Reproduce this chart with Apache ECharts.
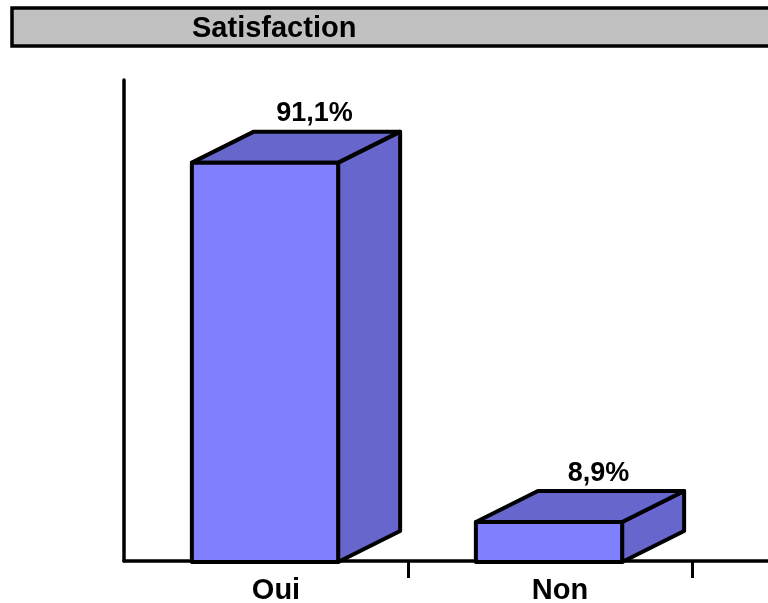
<!DOCTYPE html>
<html><head><meta charset="utf-8">
<script src="https://cdn.jsdelivr.net/npm/echarts@6/dist/echarts.min.js"></script>
<style>html,body{margin:0;padding:0;background:#fff}#c{width:768px;height:603px}</style>
</head><body><div id="c"></div>
<script>
const titleText = 'Satisfaction';
const categories = ['Oui', 'Non', ''];
const values = [91.1, 8.9];
const valueLabels = values.map(v => v.toFixed(1).replace('.', ',') + '%');

const FONT = '"Liberation Sans", Arial, sans-serif';
const DX = 62, DY = -31;
const chart = echarts.init(document.getElementById('c'), null, {renderer: 'canvas'});

function renderItem(params, api) {
  const i = api.value(0), v = api.value(1);
  const top = api.coord([i, v]);
  const base = api.coord([i, 0]);
  const w = api.size([1, 0])[0] * 0.515;
  const x0 = top[0] - w / 2 - 1, x1 = x0 + w;
  const yT = top[1], yB = base[1] + 1;
  const ln = {stroke: '#000', lineWidth: 4, lineJoin: 'round'};
  return {type: 'group', children: [
    {type: 'polygon', shape: {points: [[x1, yB], [x1 + DX, yB + DY], [x1 + DX, yT + DY], [x1, yT]]},
     style: Object.assign({fill: '#6666cc'}, ln)},
    {type: 'polygon', shape: {points: [[x0, yT], [x0 + DX, yT + DY], [x1 + DX, yT + DY], [x1, yT]]},
     style: Object.assign({fill: '#6666cc'}, ln)},
    {type: 'rect', shape: {x: x0, y: yT, width: w, height: yB - yT},
     style: Object.assign({fill: '#8080ff'}, ln)},
    {type: 'text', style: {text: valueLabels[params.dataIndex], x: (x0 + x1) / 2 + DX * 0.8, y: yT + DY - 18,
      align: 'center', verticalAlign: 'middle', font: 'bold 27px ' + FONT, fill: '#000'}}
  ]};
}

chart.setOption({
  animation: false,
  backgroundColor: '#fff',
  title: {
    text: titleText, left: 192, top: 14, padding: 0,
    textStyle: {fontFamily: FONT, fontWeight: 'bold', fontSize: 29, lineHeight: 30, color: '#000'}
  },
  graphic: [{
    type: 'rect', z: -1, shape: {x: 12, y: 8, width: 800, height: 38},
    style: {fill: '#c0c0c0', stroke: '#000', lineWidth: 3.5}
  }],
  grid: {left: 124, top: 80, width: 852, bottom: 42, outerBoundsMode: 'none', containLabel: false},
  xAxis: {
    type: 'category', data: categories, boundaryGap: true,
    axisLine: {lineStyle: {color: '#000', width: 3.5}},
    axisTick: {show: true, interval: (idx) => idx > 0, alignWithLabel: false, length: 17, lineStyle: {color: '#000', width: 3}},
    axisLabel: {interval: 0, fontFamily: FONT, fontWeight: 'bold', fontSize: 29, color: '#000', margin: 15, padding: [0, 0, 0, 20]},
    splitLine: {show: false}
  },
  yAxis: {
    type: 'value', min: 0, max: 110,
    axisLine: {show: true, lineStyle: {color: '#000', width: 3.5}},
    axisTick: {show: false}, axisLabel: {show: false}, splitLine: {show: false}
  },
  series: [{
    type: 'custom', renderItem: renderItem,
    data: values.map((v, i) => [i, v]), z: 10
  }]
});
</script>
</body></html>
